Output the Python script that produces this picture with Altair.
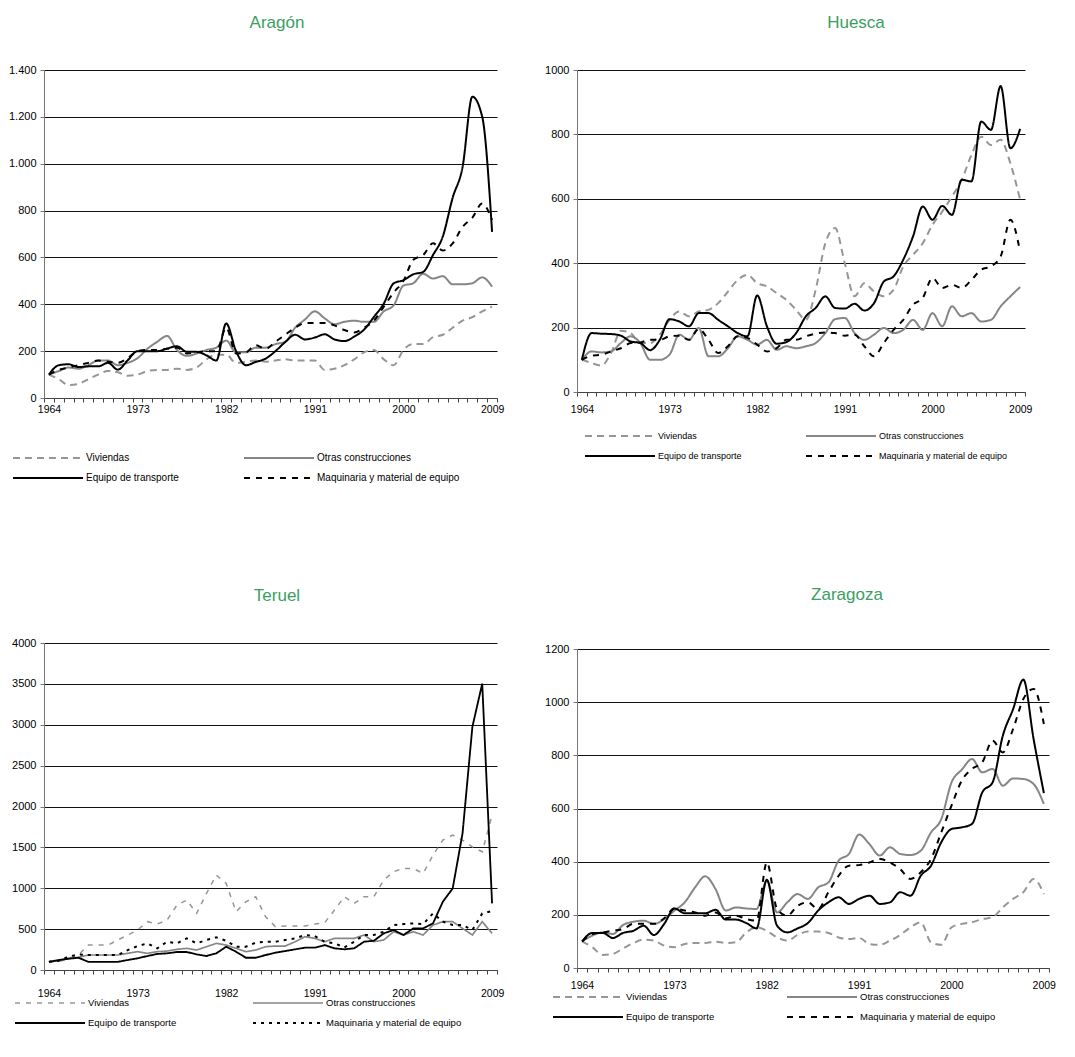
import altair as alt
import pandas as pd

YEARS = list(range(1964, 2010))
SERIES = ["Viviendas", "Otras construcciones", "Equipo de transporte", "Maquinaria y material de equipo"]
LEGEND_ORDER = ["Viviendas", "Equipo de transporte", "Otras construcciones", "Maquinaria y material de equipo"]
X_LABEL_YEARS = [1964, 1973, 1982, 1991, 2000, 2009]

# ---------------- Aragón ----------------
aragon_viv = [100, 80, 55, 60, 80, 100, 115, 110, 95, 100,
              115, 120, 120, 125, 120, 130, 165, 185, 185, 150,
              155, 160, 155, 160, 165, 160, 160, 160, 120, 125,
              140, 165, 195, 205, 165, 140, 205, 230, 230, 260,
              270, 300, 330, 345, 370, 390]
aragon_otras = [100, 115, 130, 125, 140, 160, 160, 140, 150, 170,
                210, 240, 265, 205, 180, 190, 205, 215, 245, 195,
                195, 215, 215, 230, 240, 300, 335, 370, 340, 315,
                325, 330, 325, 325, 370, 395, 480, 490, 530, 510,
                520, 485, 485, 490, 515, 475]
aragon_equipo = [100, 140, 144, 132, 135, 135, 150, 121, 161, 200,
                 200, 200, 211, 221, 197, 197, 182, 160, 318, 200,
                 140, 154, 168, 200, 239, 270, 250, 258, 272, 250,
                 243, 262, 292, 346, 403, 489, 503, 528, 538, 610,
                 690, 855, 985, 1286, 1200, 709]
aragon_maq = [100, 120, 130, 140, 150, 160, 155, 150, 170, 200,
              205, 205, 210, 215, 190, 195, 200, 200, 300, 190,
              195, 225, 210, 240, 270, 300, 320, 320, 320, 310,
              290, 280, 300, 330, 390, 450, 500, 590, 610, 660,
              630, 660, 730, 770, 830, 760]
aragon_yticks = [0, 200, 400, 600, 800, 1000, 1200, 1400]

# ---------------- Huesca ----------------
huesca_viv = [100, 90, 82, 121, 190, 183, 152, 152, 178, 224,
              250, 235, 250, 255, 276, 312, 348, 364, 338, 328,
              307, 286, 255, 224, 317, 462, 509, 400, 297, 338,
              312, 297, 317, 390, 426, 462, 519, 560, 607, 659,
              736, 793, 767, 783, 710, 597]
huesca_otras = [100, 126, 123, 126, 152, 173, 152, 100, 100, 116,
                178, 162, 199, 111, 111, 136, 173, 162, 147, 162,
                131, 142, 136, 142, 152, 183, 226, 230, 183, 162,
                178, 199, 183, 193, 224, 193, 245, 204, 266, 235,
                245, 219, 224, 266, 297, 326]
huesca_equipo = [100, 183, 181, 180, 175, 157, 152, 130, 162, 226,
                 219, 204, 245, 245, 224, 204, 183, 173, 300, 204,
                 150, 155, 183, 235, 261, 297, 261, 259, 274, 253,
                 276, 343, 359, 411, 483, 576, 535, 578, 550, 659,
                 654, 840, 814, 950, 757, 817]
huesca_maq = [100, 113, 116, 126, 136, 152, 154, 162, 162, 173,
              175, 162, 196, 162, 121, 142, 173, 168, 147, 126,
              136, 162, 162, 173, 181, 185, 183, 175, 178, 142,
              111, 152, 193, 224, 271, 292, 354, 323, 333, 323,
              348, 380, 390, 421, 535, 436]
huesca_yticks = [0, 200, 400, 600, 800, 1000]

# ---------------- Teruel ----------------
teruel_viv = [100, 102, 143, 183, 305, 305, 305, 367, 428, 489,
              591, 562, 611, 794, 855, 692, 937, 1161, 1059, 713,
              835, 896, 652, 530, 538, 538, 538, 562, 578, 733,
              896, 815, 896, 896, 1100, 1202, 1242, 1242, 1181, 1405,
              1589, 1650, 1589, 1507, 1446, 1894]
teruel_otras = [100, 114, 143, 155, 183, 183, 183, 183, 204, 224,
                204, 224, 232, 253, 265, 244, 285, 326, 305, 265,
                224, 244, 285, 293, 293, 346, 407, 387, 346, 387,
                387, 387, 428, 346, 367, 468, 428, 468, 428, 550,
                591, 591, 509, 428, 591, 448]
teruel_equipo = [100, 122, 138, 150, 100, 100, 100, 100, 122, 143,
                 171, 196, 204, 220, 220, 191, 171, 204, 285, 224,
                 150, 150, 183, 212, 232, 253, 273, 273, 305, 265,
                 253, 265, 346, 358, 448, 489, 428, 509, 509, 570,
                 835, 998, 1670, 2974, 3503, 815]
teruel_maq = [100, 114, 163, 191, 183, 183, 183, 183, 244, 293,
              326, 265, 346, 326, 387, 326, 367, 399, 358, 285,
              285, 334, 346, 346, 367, 387, 428, 415, 346, 326,
              277, 346, 428, 428, 468, 550, 562, 570, 562, 692,
              591, 550, 550, 489, 692, 720]
teruel_yticks = [0, 500, 1000, 1500, 2000, 2500, 3000, 3500, 4000]

# ---------------- Zaragoza ----------------
zaragoza_viv = [100, 78, 49, 53, 74, 94, 107, 103, 84, 78,
                90, 94, 94, 99, 94, 97, 134, 153, 140, 115,
                103, 124, 137, 137, 132, 115, 109, 113, 90, 87,
                103, 124, 153, 172, 97, 87, 153, 166, 172, 184,
                191, 228, 260, 285, 335, 278]
zaragoza_otras = [100, 122, 134, 128, 162, 174, 178, 166, 184, 216,
                  247, 303, 345, 297, 216, 228, 224, 222, 329, 209,
                  247, 278, 260, 303, 322, 404, 429, 502, 466, 423,
                  454, 429, 425, 441, 510, 560, 698, 746, 786, 736,
                  749, 686, 713, 711, 692, 617]
zaragoza_equipo = [100, 132, 132, 113, 132, 140, 159, 124, 166, 224,
                   206, 206, 206, 219, 182, 182, 169, 149, 332, 159,
                   134, 149, 169, 216, 247, 266, 241, 260, 272, 241,
                   247, 285, 272, 347, 385, 473, 523, 529, 542, 661,
                   698, 874, 974, 1085, 861, 658]
zaragoza_maq = [100, 128, 134, 140, 147, 166, 166, 166, 187, 224,
                216, 209, 197, 209, 187, 197, 184, 178, 397, 222,
                197, 234, 247, 222, 285, 347, 385, 387, 397, 410,
                397, 372, 335, 360, 410, 510, 611, 705, 749, 774,
                855, 811, 899, 1012, 1050, 918]
zaragoza_yticks = [0, 200, 400, 600, 800, 1000, 1200]

FONT = "Liberation Sans"
GREEN = "#3b9e63"
COLORS = ["#969696", "#868686", "#000000", "#000000"]
DASH_STD = [[7, 5], [1, 0], [1, 0], [6, 6]]
DASH_TERUEL = [[5, 6], [1, 0], [1, 0], [3, 5]]


def panel(title, vals, yticks, dot_sep, w, h, interp, dashes, widths,
          title_offset, title_dx, x_lab_pad, y_ext, lx, ly, col_pad, leg_font):
    rows = []
    for s, arr in zip(SERIES, vals):
        for yr, v in zip(YEARS, arr):
            rows.append({"year": yr, "serie": s, "value": v})
    df = pd.DataFrame(rows)
    if dot_sep:
        ylab = "replace(format(datum.value, ','), ',', '.')"
    else:
        ylab = "format(datum.value, 'd')"
    years_js = "[" + ",".join(str(v) for v in X_LABEL_YEARS) + "]"
    xlab = ("indexof(" + years_js + ", datum.value + 0.5) >= 0 ? "
            "toString(datum.value + 0.5) : ''")
    legend = alt.Legend(
        title=None, orient="none", legendX=lx, legendY=ly, columns=2,
        values=LEGEND_ORDER,
        symbolType="stroke", symbolSize=4900, symbolStrokeWidth=2,
        clipHeight=18, rowPadding=2, columnPadding=col_pad,
        labelFont=FONT, labelFontSize=leg_font, labelColor="#000",
        labelOffset=2, labelLimit=300, padding=0,
    )
    chart = alt.Chart(df).mark_line(interpolate=interp).encode(
        x=alt.X(
            "year:Q",
            scale=alt.Scale(domain=[1963.5, 2009.5], nice=False, zero=False),
            axis=alt.Axis(
                title=None, values=[1963.5 + i for i in range(47)],
                labelExpr=xlab, labelOffset=5, grid=False, tickSize=4,
                tickColor="#444", domainColor="#444", labelPadding=x_lab_pad,
                labelFont=FONT, labelFontSize=10.5, labelColor="#000",
                labelOverlap=False, labelFlush=False, labelBound=False,
            ),
        ),
        y=alt.Y(
            "value:Q",
            scale=alt.Scale(domain=[0, yticks[-1]], nice=False, zero=True),
            axis=alt.Axis(
                title=None, values=yticks, labelExpr=ylab, grid=True,
                gridColor="#111", gridWidth=1, tickSize=4, tickColor="#777",
                domainColor="#777", labelPadding=4, labelFont=FONT,
                labelFontSize=11, labelColor="#000",
                minExtent=y_ext, maxExtent=y_ext,
            ),
        ),
        color=alt.Color("serie:N", scale=alt.Scale(domain=SERIES, range=COLORS), legend=legend),
        strokeDash=alt.StrokeDash("serie:N", scale=alt.Scale(domain=SERIES, range=dashes), legend=legend),
        strokeWidth=alt.StrokeWidth("serie:N", scale=alt.Scale(domain=SERIES, range=widths), legend=None),
    ).properties(
        width=w, height=h,
        title=alt.TitleParams(
            text=title, font=FONT, fontSize=17, fontWeight="normal",
            color=GREEN, offset=title_offset, dx=title_dx, anchor="middle",
        ),
    )
    return chart


aragon = panel("Aragón", [aragon_viv, aragon_otras, aragon_equipo, aragon_maq],
               aragon_yticks, True, 453, 328, "monotone", DASH_STD, [2, 2, 2, 2],
               32, 6.5, 2, 36, -32, 379, 64, 10)
teruel = panel("Teruel", [teruel_viv, teruel_otras, teruel_equipo, teruel_maq],
               teruel_yticks, False, 453, 327, "linear", DASH_TERUEL, [1.5, 2, 2, 2.5],
               32, 6.5, 14, 36, -30, 351, 75, 9.5)
huesca = panel("Huesca", [huesca_viv, huesca_otras, huesca_equipo, huesca_maq],
               huesca_yticks, False, 448, 322, "monotone", DASH_STD, [2, 2, 2, 2],
               32, 55, 8, 31, 7, 357, 63, 9)
zaragoza = panel("Zaragoza", [zaragoza_viv, zaragoza_otras, zaragoza_equipo, zaragoza_maq],
                 zaragoza_yticks, False, 472, 319, "monotone", DASH_STD, [2, 2, 2, 2],
                 39, 34, 8, 31, -25, 339, 71, 9.5)


def indep(c):
    return c.resolve_scale(color="independent", strokeDash="independent",
                           strokeWidth="independent").resolve_legend(
        color="independent", strokeDash="independent")


col1 = indep(alt.vconcat(aragon, teruel, spacing=100))
col2 = indep(alt.vconcat(huesca, zaragoza, spacing=121))
chart = indep(alt.hconcat(col1, col2, spacing=40)).properties(
    padding={"left": 0, "top": 6, "right": 0, "bottom": 0}
).configure_view(stroke=None)

chart.save("out.html", embed_options={"renderer": "svg", "actions": False})
